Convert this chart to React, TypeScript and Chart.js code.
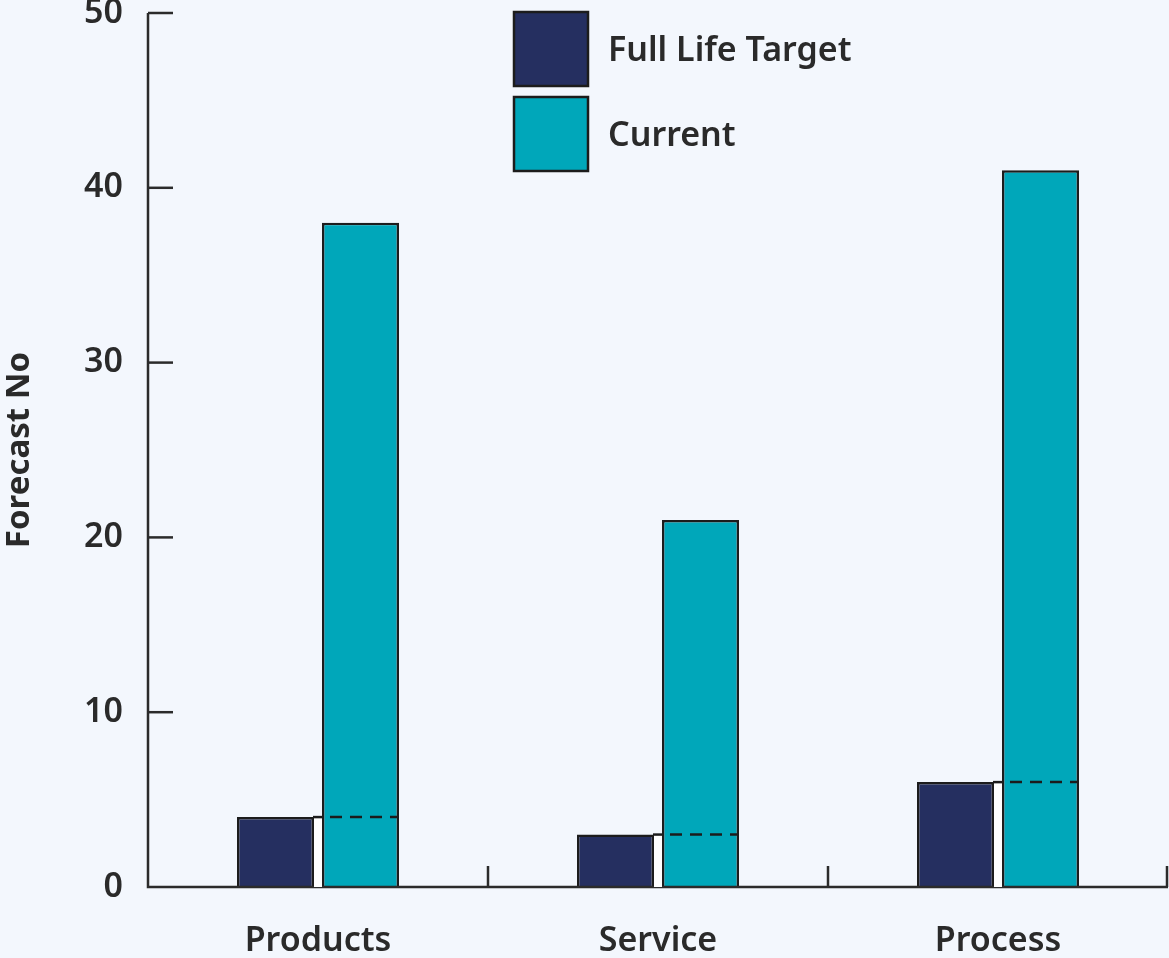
import React, { useEffect, useRef } from "react";
import { Chart, registerables } from "chart.js";

Chart.register(...registerables);

const categories = ["Products", "Service", "Process"];
const targetValues = [4, 3, 6];
const currentValues = [38, 21, 41];
const seriesLabels = ["Full Life Target", "Current"];
const yTickValues = [0, 10, 20, 30, 40, 50];

const BG = "#f3f7fd";
const NAVY = "#252f60";
const TEAL = "#00a7ba";
const INK = "#1c1c1c";
const TEXT = "#2a2a2a";
const FONT = "'Noto Sans', sans-serif";

const axesPlugin = {
  id: "customAxes",
  afterDatasetsDraw(chart: any) {
    const { ctx, chartArea, scales } = chart;
    const ys = scales.y;
    const xs = scales.x;
    ctx.save();
    ctx.strokeStyle = "#2b2b2b";
    ctx.lineWidth = 2.5;
    ctx.beginPath();
    ctx.moveTo(chartArea.left, chartArea.top);
    ctx.lineTo(chartArea.left, chartArea.bottom);
    ctx.lineTo(chartArea.right, chartArea.bottom);
    ctx.stroke();
    yTickValues.forEach((v) => {
      if (v === 0) return;
      const y = ys.getPixelForValue(v);
      ctx.beginPath();
      ctx.moveTo(chartArea.left, y);
      ctx.lineTo(chartArea.left + 25, y);
      ctx.stroke();
    });
    const half = (xs.getPixelForValue(1) - xs.getPixelForValue(0)) / 2;
    categories.forEach((_, i) => {
      const x = Math.min(xs.getPixelForValue(i) + half, chartArea.right - 1);
      ctx.beginPath();
      ctx.moveTo(x, chartArea.bottom);
      ctx.lineTo(x, chartArea.bottom - 21);
      ctx.stroke();
    });
    ctx.restore();
  },
};

const targetPlugin = {
  id: "targetMarks",
  afterDatasetsDraw(chart: any) {
    const { ctx, scales } = chart;
    const m0 = chart.getDatasetMeta(0);
    const m1 = chart.getDatasetMeta(1);
    ctx.save();
    targetValues.forEach((v, i) => {
      const b0 = m0.data[i].getProps(["x", "width", "base"], true);
      const b1 = m1.data[i].getProps(["x", "width", "base"], true);
      const y = scales.y.getPixelForValue(v);
      const gapL = b0.x + b0.width / 2;
      const gapR = b1.x - b1.width / 2;
      ctx.fillStyle = "#ffffff";
      ctx.fillRect(gapL, y, gapR - gapL, b0.base - y);
      ctx.strokeStyle = INK;
      ctx.lineWidth = 2.5;
      ctx.setLineDash([]);
      ctx.beginPath();
      ctx.moveTo(gapL - 1, y);
      ctx.lineTo(gapR + 1, y);
      ctx.stroke();
      ctx.lineWidth = 2.5;
      ctx.setLineDash([12, 8]);
      ctx.lineDashOffset = 12;
      ctx.beginPath();
      ctx.moveTo(gapR, y);
      ctx.lineTo(b1.x + b1.width / 2 - 1, y);
      ctx.stroke();
    });
    ctx.restore();
  },
};

const legendPlugin = {
  id: "boxLegend",
  afterDraw(chart: any) {
    const { ctx, chartArea } = chart;
    const ds = chart.data.datasets;
    ctx.save();
    ds.forEach((d: any, i: number) => {
      const bx = chartArea.left + 366;
      const by = chartArea.top - 1 + i * 85;
      const size = 74;
      ctx.fillStyle = d.backgroundColor;
      ctx.fillRect(bx, by, size, size);
      ctx.strokeStyle = INK;
      ctx.lineWidth = 2.5;
      ctx.strokeRect(bx, by, size, size);
      ctx.fillStyle = TEXT;
      ctx.font = `600 34px ${FONT}`;
      ctx.textAlign = "left";
      ctx.textBaseline = "middle";
      ctx.fillText(d.label, bx + size + 20, by + size / 2 + 2);
    });
    ctx.restore();
  },
};

export default function App() {
  const ref = useRef<HTMLCanvasElement | null>(null);

  useEffect(() => {
    document.body.style.margin = "0";
    document.body.style.background = BG;
    const canvas = ref.current;
    if (!canvas) return;
    const chart = new Chart(canvas, {
      type: "bar",
      data: {
        labels: categories,
        datasets: [
          {
            label: seriesLabels[0],
            data: targetValues,
            backgroundColor: NAVY,
            borderColor: INK,
            borderWidth: 2.5,
          },
          {
            label: seriesLabels[1],
            data: currentValues,
            backgroundColor: TEAL,
            borderColor: INK,
            borderWidth: 2.5,
          },
        ],
      },
      options: {
        animation: false,
        responsive: false,
        events: [],
        layout: { padding: { top: 13, right: 1, left: 0, bottom: 0 } },
        datasets: {
          bar: { categoryPercentage: 0.5, barPercentage: 0.906 },
        },
        plugins: {
          legend: { display: false },
          tooltip: { enabled: false },
        },
        scales: {
          x: {
            offset: true,
            grid: { display: false },
            border: { display: false },
            ticks: {
              color: TEXT,
              font: { family: FONT, size: 34, weight: "600" },
              padding: 26,
            },
            afterFit(scale: any) {
              scale.height = 71;
              scale.paddingLeft = 0;
              scale.paddingRight = 0;
            },
          },
          y: {
            min: 0,
            max: 50,
            grid: { display: false, drawTicks: false },
            border: { display: false },
            ticks: {
              stepSize: 10,
              color: TEXT,
              font: { family: FONT, size: 34, weight: "600" },
              padding: 25,
            },
            title: {
              display: true,
              text: "Forecast No",
              color: TEXT,
              font: { family: FONT, size: 33, weight: "700" },
              padding: { top: 0, bottom: 0 },
            },
            afterFit(scale: any) {
              scale.width = 148;
              scale.paddingTop = 0;
              scale.paddingBottom = 0;
            },
          },
        },
      },
      plugins: [axesPlugin, targetPlugin, legendPlugin],
    });
    return () => chart.destroy();
  }, []);

  return (
    <div style={{ width: 1169, height: 958, background: BG }}>
      <canvas ref={ref} width={1169} height={958} style={{ display: "block" }} />
    </div>
  );
}
